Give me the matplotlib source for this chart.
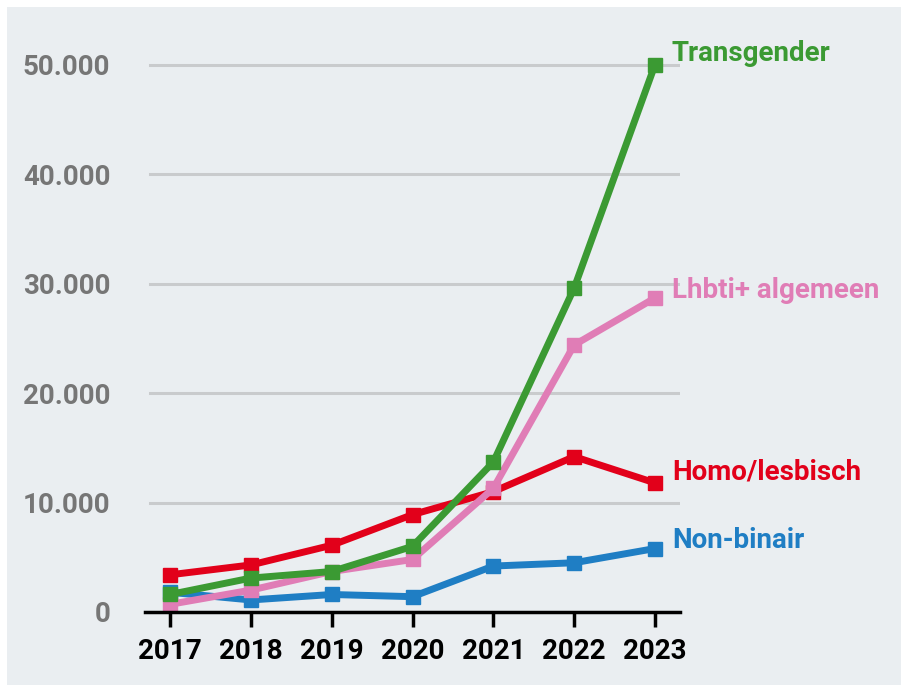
import matplotlib.pyplot as plt
from matplotlib.patches import Rectangle

# data
jaren = [2017, 2018, 2019, 2020, 2021, 2022, 2023]
non_binair = [1800, 1100, 1600, 1400, 4200, 4500, 5800]
homo_lesbisch = [3400, 4300, 6100, 8900, 11000, 14200, 11800]
lhbti = [700, 2000, 3700, 4800, 11300, 24400, 28700]
transgender = [1600, 3100, 3700, 6000, 13700, 29600, 50000]
yticks = [0, 10000, 20000, 30000, 40000, 50000]
ylabels = ['0', '10.000', '20.000', '30.000', '40.000', '50.000']

bg = '#eaeef1'
plt.rcParams['font.family'] = ['Roboto', 'DejaVu Sans']

fig = plt.figure(figsize=(9.01, 6.85), dpi=100, facecolor='white')
fig.patches.append(Rectangle((7/901, 0), 1, 1 - 7/685, transform=fig.transFigure,
                             facecolor=bg, edgecolor='none', zorder=-1))
ax = fig.add_axes([145/901, 1 - 612/685, 535/901, 569/685])
ax.set_facecolor(bg)
ax.patch.set_alpha(0)

ax.set_xlim(2016.69, 2023.31)
ax.set_ylim(0, 52000)

for y in yticks[1:]:
    ax.axhline(y, xmin=0.01, xmax=1, color='#c9cbcd', lw=2.2, zorder=0)

series = [
    (non_binair, '#1f7ec4', 'Non-binair'),
    (homo_lesbisch, '#e2001a', 'Homo/lesbisch'),
    (lhbti, '#e07db6', 'Lhbti+ algemeen'),
    (transgender, '#3b9a33', 'Transgender'),
]
label_y = {'Non-binair': 6500, 'Homo/lesbisch': 12800, 'Lhbti+ algemeen': 29400,
           'Transgender': 51000}
for vals, kleur, naam in series:
    ax.plot(jaren, vals, color=kleur, lw=5, marker='s', markersize=10,
            solid_joinstyle='miter', clip_on=False)
    ax.text(2023.21, label_y[naam], naam, color=kleur, fontsize=20,
            fontweight='bold', va='center', ha='left', clip_on=False)

for s in ['top', 'right', 'left']:
    ax.spines[s].set_visible(False)
ax.spines['bottom'].set_linewidth(2.5)
ax.spines['bottom'].set_color('black')

ax.set_xticks(jaren)
ax.set_xticklabels([str(j) for j in jaren], fontsize=20, fontweight='bold')
ax.tick_params(axis='x', length=11, width=2.5, pad=8, color='black')
ax.set_yticks(yticks)
ax.set_yticklabels(ylabels, fontsize=20, fontweight='bold', color='#767676')
ax.tick_params(axis='y', length=0, pad=25)

plt.savefig('out.png', dpi=100, facecolor=fig.get_facecolor())
